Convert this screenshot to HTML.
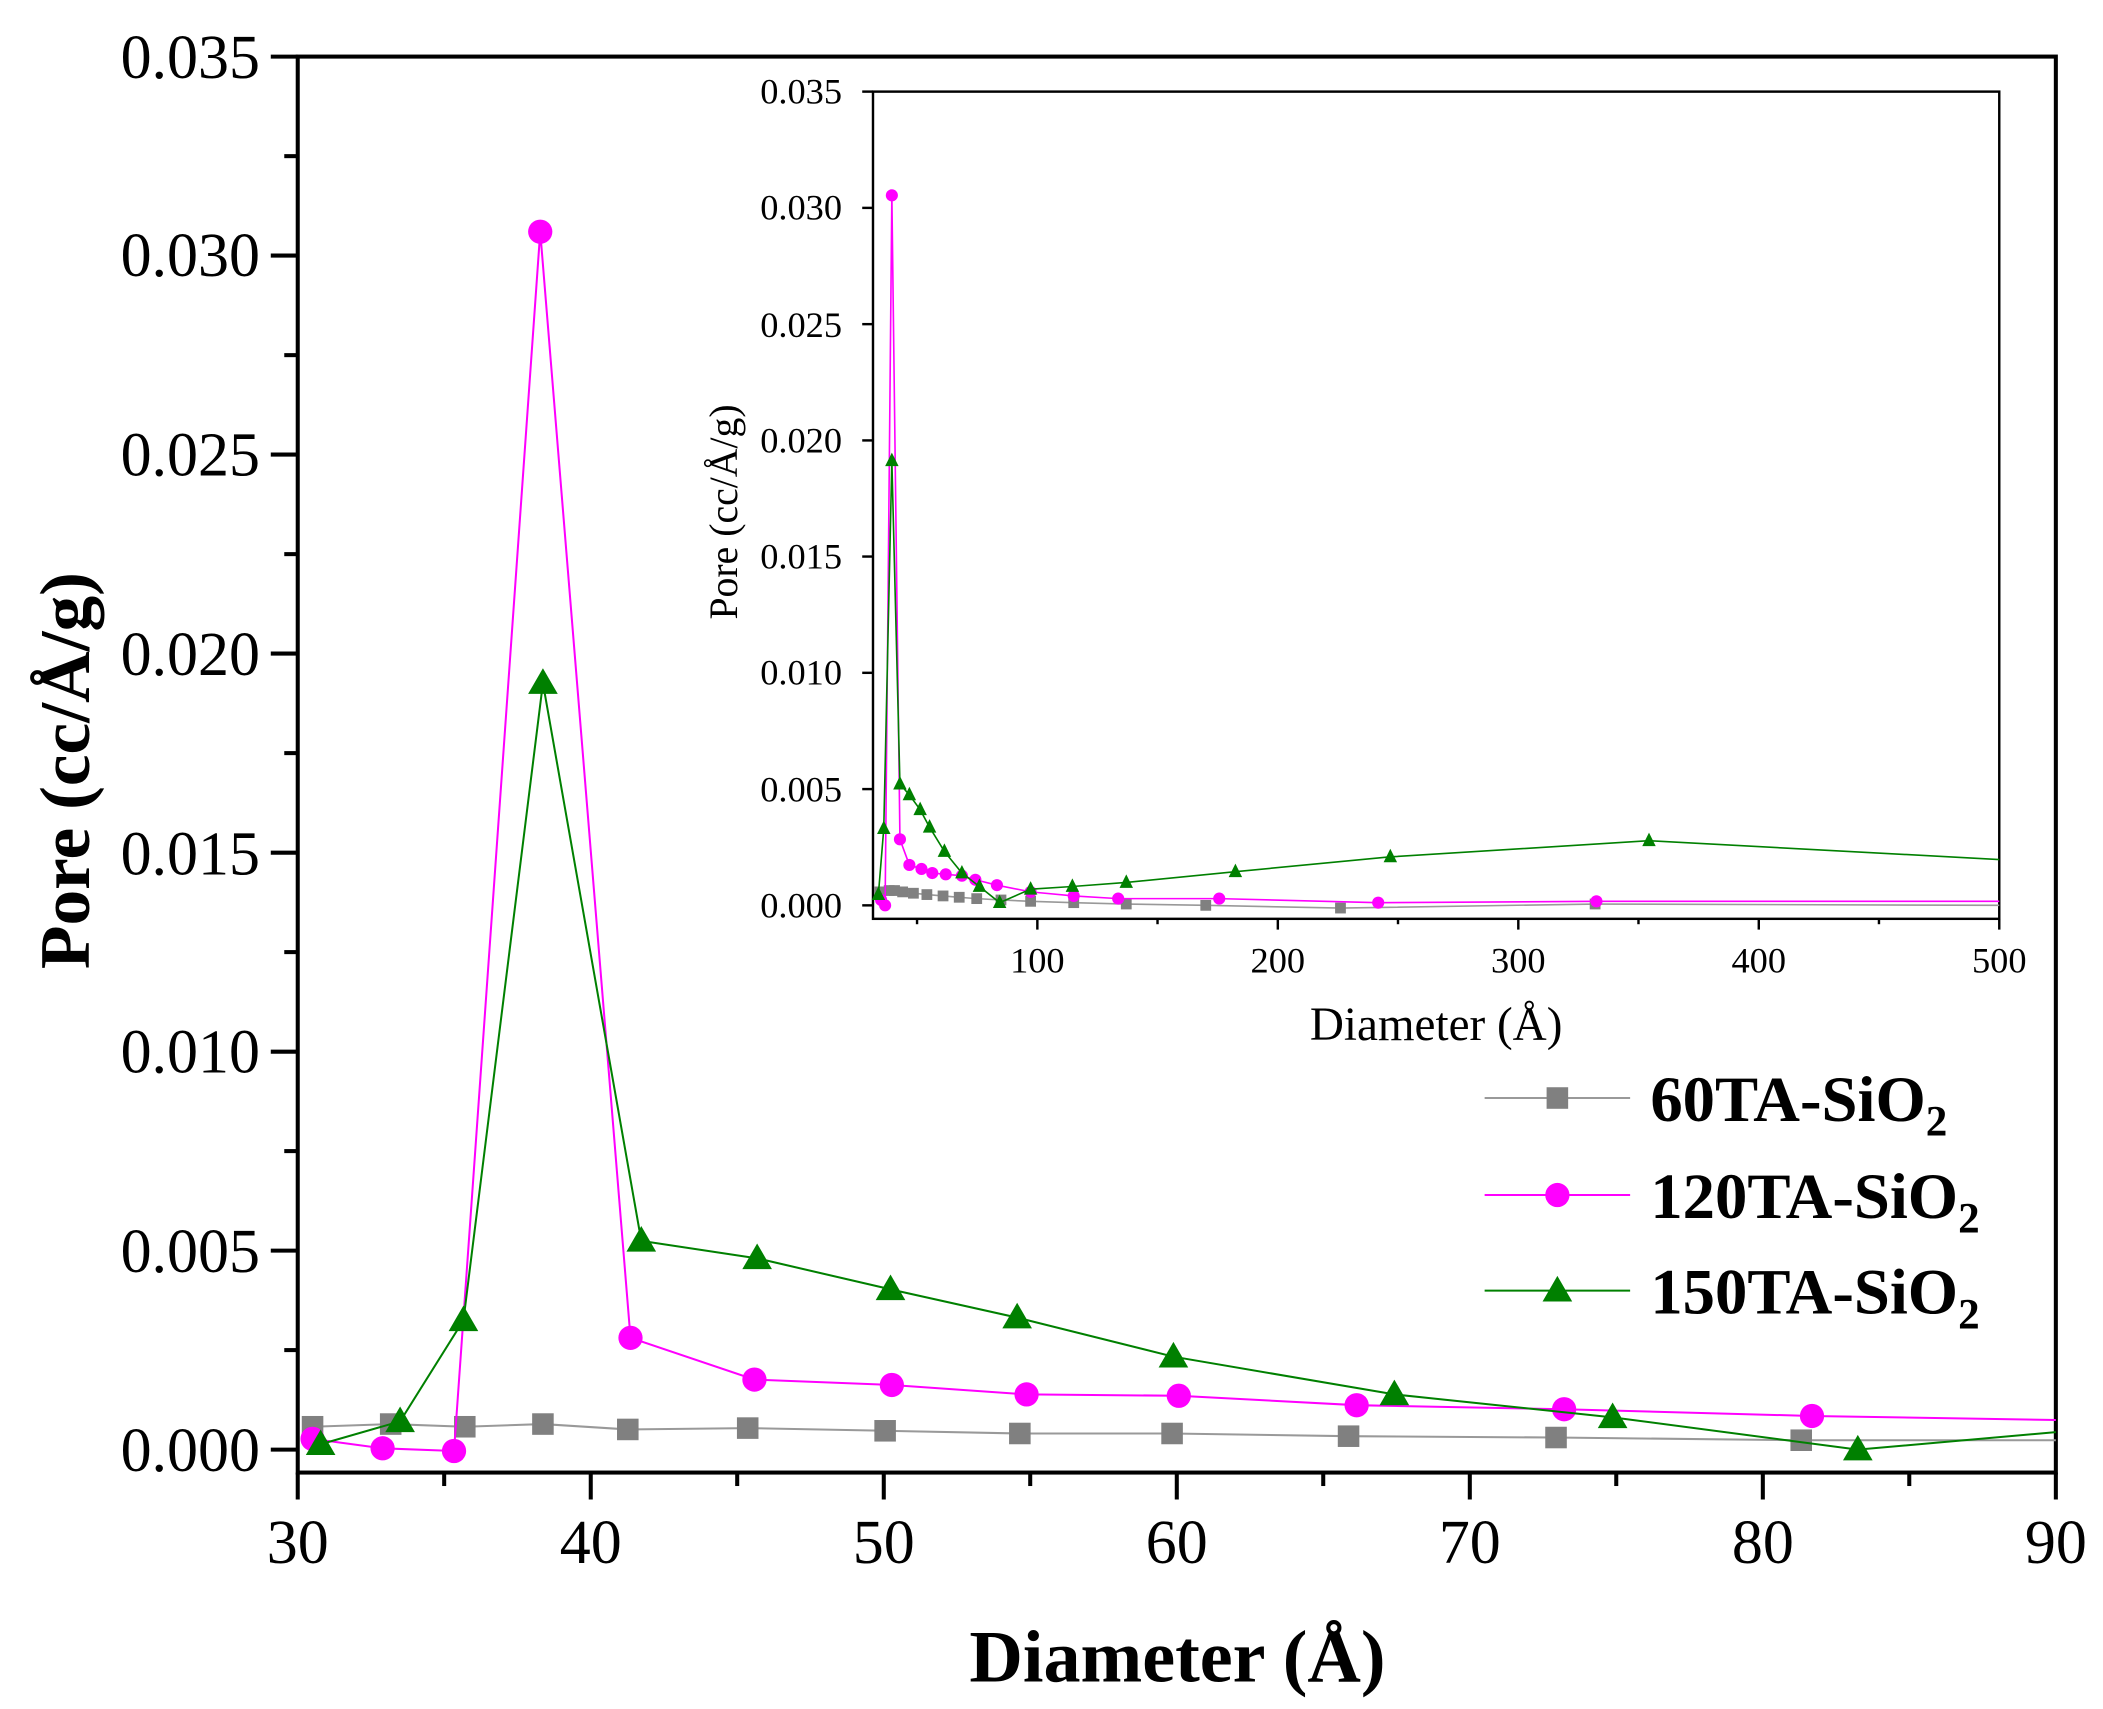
<!DOCTYPE html>
<html><head><meta charset="utf-8"><style>
html,body{margin:0;padding:0;background:#fff;}
svg{display:block;}
text{font-family:"Liberation Serif",serif;fill:#000;}
</style></head><body>
<svg width="2103" height="1709" viewBox="0 0 1561 1268.5" preserveAspectRatio="none" xmlns="http://www.w3.org/2000/svg">
<rect width="1561" height="1269" fill="#fff"/>
<rect x="221" y="42" width="1305" height="1051" fill="none" stroke="#000" stroke-width="3"/>
<g stroke="#000" stroke-width="3">
<line x1="201" y1="1076" x2="221" y2="1076"/><line x1="201" y1="928.3" x2="221" y2="928.3"/><line x1="201" y1="780.6" x2="221" y2="780.6"/><line x1="201" y1="632.9" x2="221" y2="632.9"/><line x1="201" y1="485.1" x2="221" y2="485.1"/><line x1="201" y1="337.4" x2="221" y2="337.4"/><line x1="201" y1="189.7" x2="221" y2="189.7"/><line x1="201" y1="42" x2="221" y2="42"/>
<line x1="211" y1="1002.1" x2="221" y2="1002.1"/><line x1="211" y1="854.4" x2="221" y2="854.4"/><line x1="211" y1="706.7" x2="221" y2="706.7"/><line x1="211" y1="559" x2="221" y2="559"/><line x1="211" y1="411.3" x2="221" y2="411.3"/><line x1="211" y1="263.6" x2="221" y2="263.6"/><line x1="211" y1="115.9" x2="221" y2="115.9"/>
<line x1="221" y1="1093" x2="221" y2="1113"/><line x1="438.5" y1="1093" x2="438.5" y2="1113"/><line x1="656" y1="1093" x2="656" y2="1113"/><line x1="873.5" y1="1093" x2="873.5" y2="1113"/><line x1="1091" y1="1093" x2="1091" y2="1113"/><line x1="1308.5" y1="1093" x2="1308.5" y2="1113"/><line x1="1526" y1="1093" x2="1526" y2="1113"/>
<line x1="329.7" y1="1093" x2="329.7" y2="1103"/><line x1="547.2" y1="1093" x2="547.2" y2="1103"/><line x1="764.7" y1="1093" x2="764.7" y2="1103"/><line x1="982.2" y1="1093" x2="982.2" y2="1103"/><line x1="1199.7" y1="1093" x2="1199.7" y2="1103"/><line x1="1417.2" y1="1093" x2="1417.2" y2="1103"/>
</g>
<g font-size="46" text-anchor="end">
<text x="193" y="1092">0.000</text><text x="193" y="944">0.005</text><text x="193" y="796">0.010</text><text x="193" y="649">0.015</text><text x="193" y="501">0.020</text><text x="193" y="353">0.025</text><text x="193" y="205">0.030</text><text x="193" y="58">0.035</text>
</g>
<g font-size="46" text-anchor="middle">
<text x="221" y="1160">30</text><text x="438.5" y="1160">40</text><text x="656" y="1160">50</text><text x="873.5" y="1160">60</text><text x="1091" y="1160">70</text><text x="1308.5" y="1160">80</text><text x="1526" y="1160">90</text>
</g>
<text x="874" y="1248" font-size="55" font-weight="bold" text-anchor="middle">Diameter (Å)</text>
<text transform="translate(66,572) rotate(-90)" font-size="53" font-weight="bold" text-anchor="middle">Pore (cc/Å/g)</text>

<polyline fill="none" stroke="#999" stroke-width="1.5" points="232,1059 290,1057 345,1059 403,1057 466,1061 555,1060 657,1062 757,1064 870,1064 1001,1066 1155,1067 1337,1069 1526,1069"/>
<g fill="#808080">
<rect x="224" y="1051" width="16" height="16"/><rect x="282" y="1049" width="16" height="16"/><rect x="337" y="1051" width="16" height="16"/><rect x="395" y="1049" width="16" height="16"/><rect x="458" y="1053" width="16" height="16"/><rect x="547" y="1052" width="16" height="16"/><rect x="649" y="1054" width="16" height="16"/><rect x="749" y="1056" width="16" height="16"/><rect x="862" y="1056" width="16" height="16"/><rect x="993" y="1058" width="16" height="16"/><rect x="1147" y="1059" width="16" height="16"/><rect x="1329" y="1061" width="16" height="16"/>
</g>
<polyline fill="none" stroke="#ff00ff" stroke-width="1.5" points="232,1068 284,1075 337,1077 401,172 468,993 560,1024 662,1028 762,1035 875,1036 1007,1043 1161,1046 1345,1051 1526,1054"/>
<g fill="#ff00ff">
<circle cx="232" cy="1068" r="9"/><circle cx="284" cy="1075" r="9"/><circle cx="337" cy="1077" r="9"/><circle cx="401" cy="172" r="9"/><circle cx="468" cy="993" r="9"/><circle cx="560" cy="1024" r="9"/><circle cx="662" cy="1028" r="9"/><circle cx="762" cy="1035" r="9"/><circle cx="875" cy="1036" r="9"/><circle cx="1007" cy="1043" r="9"/><circle cx="1161" cy="1046" r="9"/><circle cx="1345" cy="1051" r="9"/>
</g>
<polyline fill="none" stroke="#008000" stroke-width="1.5" points="238,1072 297,1055 344,980 403,507 476,921 562,934 661,957 755,978 871,1007 1035,1035 1197,1052 1379,1076 1526,1063"/>
<g fill="#008000">
<path d="M238,1061 l-11,19 h22z"/><path d="M297,1044 l-11,19 h22z"/><path d="M344,969 l-11,19 h22z"/><path d="M403,496 l-11,19 h22z"/><path d="M476,910 l-11,19 h22z"/><path d="M562,923 l-11,19 h22z"/><path d="M661,946 l-11,19 h22z"/><path d="M755,967 l-11,19 h22z"/><path d="M871,996 l-11,19 h22z"/><path d="M1035,1024 l-11,19 h22z"/><path d="M1197,1041 l-11,19 h22z"/><path d="M1379,1065 l-11,19 h22z"/>
</g>

<line x1="1102" y1="815" x2="1210" y2="815" stroke="#999" stroke-width="1.5"/><rect x="1148" y="807" width="16" height="16" fill="#808080"/>
<line x1="1102" y1="887" x2="1210" y2="887" stroke="#ff00ff" stroke-width="1.5"/><circle cx="1156" cy="887" r="9" fill="#ff00ff"/>
<line x1="1102" y1="958" x2="1210" y2="958" stroke="#008000" stroke-width="1.5"/><path d="M1156,947 l-11,19 h22z" fill="#008000"/>
<g font-size="48" font-weight="bold">
<text x="1225" y="832">60TA-SiO<tspan font-size="32" dy="11">2</tspan></text>
<text x="1225" y="904">120TA-SiO<tspan font-size="32" dy="11">2</tspan></text>
<text x="1225" y="975">150TA-SiO<tspan font-size="32" dy="11">2</tspan></text>
</g>

<rect x="648" y="68" width="836" height="614" fill="none" stroke="#000" stroke-width="1.8"/>
<g stroke="#000" stroke-width="1.8">
<line x1="640" y1="672" x2="648" y2="672"/><line x1="640" y1="585.7" x2="648" y2="585.7"/><line x1="640" y1="499.4" x2="648" y2="499.4"/><line x1="640" y1="413.1" x2="648" y2="413.1"/><line x1="640" y1="326.9" x2="648" y2="326.9"/><line x1="640" y1="240.6" x2="648" y2="240.6"/><line x1="640" y1="154.3" x2="648" y2="154.3"/><line x1="640" y1="68" x2="648" y2="68"/>
<line x1="770" y1="682" x2="770" y2="690"/><line x1="948.5" y1="682" x2="948.5" y2="690"/><line x1="1127" y1="682" x2="1127" y2="690"/><line x1="1305.5" y1="682" x2="1305.5" y2="690"/><line x1="1484" y1="682" x2="1484" y2="690"/>
<line x1="680.7" y1="682" x2="680.7" y2="686"/><line x1="859.2" y1="682" x2="859.2" y2="686"/><line x1="1037.7" y1="682" x2="1037.7" y2="686"/><line x1="1216.2" y1="682" x2="1216.2" y2="686"/><line x1="1394.7" y1="682" x2="1394.7" y2="686"/>
</g>
<g font-size="27" text-anchor="end">
<text x="625" y="681">0.000</text><text x="625" y="595">0.005</text><text x="625" y="508">0.010</text><text x="625" y="422">0.015</text><text x="625" y="336">0.020</text><text x="625" y="250">0.025</text><text x="625" y="163">0.030</text><text x="625" y="77">0.035</text>
</g>
<g font-size="27" text-anchor="middle">
<text x="770" y="722">100</text><text x="948.5" y="722">200</text><text x="1127" y="722">300</text><text x="1305.5" y="722">400</text><text x="1484" y="722">500</text>
</g>
<text x="1066" y="772" font-size="35" text-anchor="middle">Diameter (Å)</text>
<text transform="translate(547,380) rotate(-90)" font-size="29.5" text-anchor="middle">Pore (cc/Å/g)</text>

<polyline fill="none" stroke="#999" stroke-width="1.2" points="653,662 660,661 664,661 670,662 678,663 688,664 700,665 712,666 725,667 743,668 765,669 797,670 836,671 895,672 995,674 1184,671 1484,672"/>
<g fill="#808080">
<rect x="649" y="658" width="8" height="8"/><rect x="656" y="657" width="8" height="8"/><rect x="660" y="657" width="8" height="8"/><rect x="666" y="658" width="8" height="8"/><rect x="674" y="659" width="8" height="8"/><rect x="684" y="660" width="8" height="8"/><rect x="696" y="661" width="8" height="8"/><rect x="708" y="662" width="8" height="8"/><rect x="721" y="663" width="8" height="8"/><rect x="739" y="664" width="8" height="8"/><rect x="761" y="665" width="8" height="8"/><rect x="793" y="666" width="8" height="8"/><rect x="832" y="667" width="8" height="8"/><rect x="891" y="668" width="8" height="8"/><rect x="991" y="670" width="8" height="8"/><rect x="1180" y="667" width="8" height="8"/>
</g>
<polyline fill="none" stroke="#ff00ff" stroke-width="1.2" points="654,668 657,672 662,145 668,623 675,642 684,645 692,648 702,649 714,650 724,653 740,657 765,662 797,665 830,667 905,667 1023,670 1185,669 1484,669"/>
<g fill="#ff00ff">
<circle cx="654" cy="668" r="4.5"/><circle cx="657" cy="672" r="4.5"/><circle cx="662" cy="145" r="4.5"/><circle cx="668" cy="623" r="4.5"/><circle cx="675" cy="642" r="4.5"/><circle cx="684" cy="645" r="4.5"/><circle cx="692" cy="648" r="4.5"/><circle cx="702" cy="649" r="4.5"/><circle cx="714" cy="650" r="4.5"/><circle cx="724" cy="653" r="4.5"/><circle cx="740" cy="657" r="4.5"/><circle cx="765" cy="662" r="4.5"/><circle cx="797" cy="665" r="4.5"/><circle cx="830" cy="667" r="4.5"/><circle cx="905" cy="667" r="4.5"/><circle cx="1023" cy="670" r="4.5"/><circle cx="1185" cy="669" r="4.5"/>
</g>
<polyline fill="none" stroke="#008000" stroke-width="1.2" points="652,664 656,615 662,342 668,582 675,590 683,601 690,614 701,632 714,648 727,658 742,670 765,660 796,658 836,655 917,647 1032,636 1224,624 1484,638"/>
<g fill="#008000">
<path d="M652,658 l-5,10 h10z"/><path d="M656,609 l-5,10 h10z"/><path d="M662,336 l-5,10 h10z"/><path d="M668,576 l-5,10 h10z"/><path d="M675,584 l-5,10 h10z"/><path d="M683,595 l-5,10 h10z"/><path d="M690,608 l-5,10 h10z"/><path d="M701,626 l-5,10 h10z"/><path d="M714,642 l-5,10 h10z"/><path d="M727,652 l-5,10 h10z"/><path d="M742,664 l-5,10 h10z"/><path d="M765,654 l-5,10 h10z"/><path d="M796,652 l-5,10 h10z"/><path d="M836,649 l-5,10 h10z"/><path d="M917,641 l-5,10 h10z"/><path d="M1032,630 l-5,10 h10z"/><path d="M1224,618 l-5,10 h10z"/>
</g>
</svg>
</body></html>
